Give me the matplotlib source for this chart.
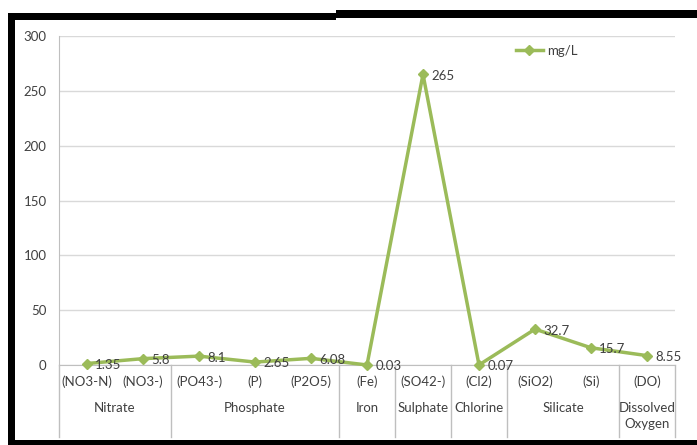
import matplotlib.pyplot as plt
from matplotlib.patches import Rectangle

# water quality parameters, mg/L
species = ["(NO3-N)", "(NO3-)", "(PO43-)", "(P)", "(P2O5)", "(Fe)",
           "(SO42-)", "(Cl2)", "(SiO2)", "(Si)", "(DO)"]
values = [1.35, 5.8, 8.1, 2.65, 6.08, 0.03, 265, 0.07, 32.7, 15.7, 8.55]
value_labels = ["1.35", "5.8", "8.1", "2.65", "6.08", "0.03", "265", "0.07",
                "32.7", "15.7", "8.55"]
groups = ["Nitrate", "Phosphate", "Iron", "Sulphate", "Chlorine", "Silicate",
          "Dissolved\nOxygen"]
group_sizes = [2, 3, 1, 1, 1, 2, 1]
yticks = [0, 50, 100, 150, 200, 250, 300]

W, H = 697, 445
GREEN = "#9BBB59"
TXT = "#404040"
GRID = "#D9D9D9"
FS = 9.5

plt.rcParams["font.family"] = ["Lato", "DejaVu Sans"]

fig = plt.figure(figsize=(W / 100, H / 100), dpi=100)
ax = fig.add_axes([59 / W, 1 - 365 / H, (675 - 59) / W, (365 - 36) / H])

x = list(range(len(values)))
ax.plot(x, values, color=GREEN, lw=2.5, marker="D", ms=5.5, mfc=GREEN,
        mec=GREEN, label="mg/L", zorder=3, clip_on=False)

for xi, v, s in zip(x, values, value_labels):
    ax.annotate(s, (xi, v), xytext=(6, -1), textcoords="offset points",
                ha="left", va="center", fontsize=FS, color=TXT, zorder=4)

ax.set_xlim(-0.5, len(values) - 0.5)
ax.set_ylim(0, 300)
ax.set_yticks(yticks)
ax.yaxis.grid(True, color=GRID, lw=1)
ax.set_axisbelow(True)
ax.set_xticks([])
ax.tick_params(axis="y", length=0, labelsize=FS, labelcolor=TXT, pad=9)
for side in ["top", "right"]:
    ax.spines[side].set_visible(False)
ax.spines["left"].set_color("#BFBFBF")
ax.spines["bottom"].set_color("#BFBFBF")

# two-level category axis
tr = ax.get_xaxis_transform()
for xi, s in zip(x, species):
    ax.annotate(s, (xi, 0), xycoords=tr, xytext=(0, -12), textcoords="offset points",
                ha="center", va="center", fontsize=FS, color=TXT)

start = 0
bounds = [-0.5]
for g, n in zip(groups, group_sizes):
    center = start + (n - 1) / 2
    ax.annotate(g, (center, 0), xycoords=tr, xytext=(0, -27), textcoords="offset points",
                ha="center", va="top", fontsize=FS, color=TXT, linespacing=1.3)
    start += n
    bounds.append(start - 0.5)

for b in bounds:
    ax.plot([b, b], [0, -72 / 329], transform=tr, color="#BFBFBF", lw=1,
            clip_on=False)

ax.legend(loc="center left", bbox_to_anchor=((511 - 59) / 616, (365 - 51) / 329),
          frameon=False, fontsize=FS, labelcolor=TXT, handlelength=2.0,
          handletextpad=0.3, borderaxespad=0)


# black frame around the chart
def px_rect(x0, y0, x1, y1):
    fig.add_artist(Rectangle((x0 / W, 1 - y1 / H), (x1 - x0) / W, (y1 - y0) / H,
                             transform=fig.transFigure, color="black", lw=0))


px_rect(8, 13, 336, 20)
px_rect(336, 10, W, 18)
px_rect(8, 13, 15, H)
px_rect(8, 440, W, H)

fig.savefig("out.png", dpi=100)
